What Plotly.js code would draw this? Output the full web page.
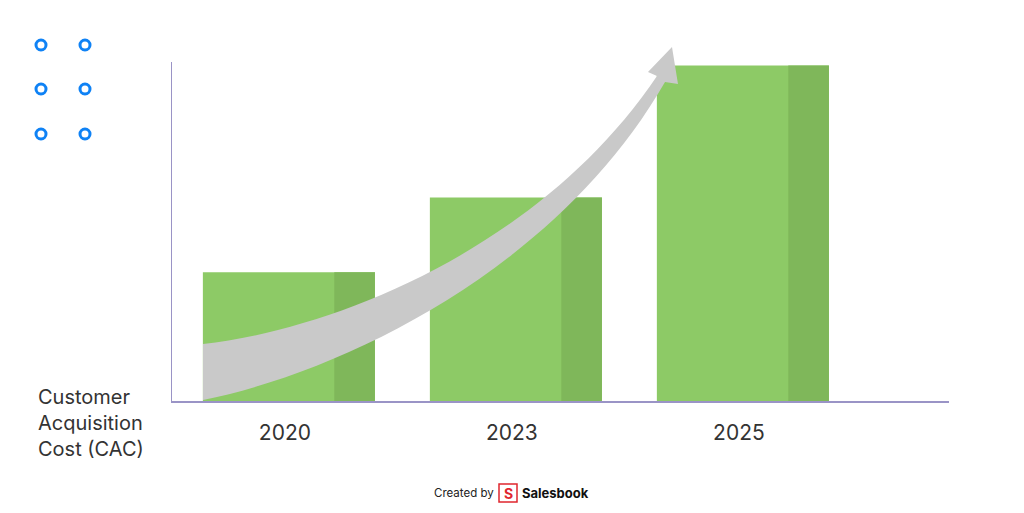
<!DOCTYPE html>
<html>
<head>
<meta charset="utf-8">
<script src="https://cdn.plot.ly/plotly-3.0.1.min.js"></script>
<style>
  html, body { margin: 0; padding: 0; background: #fff; }
  #chart { width: 1024px; height: 513px; }
</style>
</head>
<body>
<div id="chart"></div>
<script>
// chart data
const years = ['2020', '2023', '2025'];
const cacValues = [38, 60, 99];
const yTitle = 'Customer<br>Acquisition<br>Cost (CAC)';

const lightGreen = '#8dca66';
const darkGreen = '#7fb75a';
const axisColor = '#9a94c6';

// plot area in pixels (used for the decorations only)
const L = 172, R = 949, T = 62, B = 401;
function px(x, y) {
  return ((x - L) / (R - L)).toFixed(4) + ',' + ((B - y) / (B - T)).toFixed(4);
}
function pxX(x) { return (x - L) / (R - L); }
function pxY(y) { return (B - y) / (B - T); }

// the curved growth arrow over the bars
const arrowPath = 'M' + px(203, 344) +
  ' C' + px(330, 330) + ' ' + px(540, 250) + ' ' + px(657, 76) +
  ' L' + px(648, 72) + ' L' + px(672, 47) + ' L' + px(678, 84) + ' L' + px(665, 82) +
  ' C' + px(560, 265) + ' ' + px(350, 370) + ' ' + px(203, 400) + ' Z';

let shapes = [{
  type: 'path', xref: 'paper', yref: 'paper', path: arrowPath,
  fillcolor: '#c9c9c9', line: { width: 0 }, layer: 'above'
}];

// blue ring decoration top left
const dotX = [41, 85];
const dotY = [45, 89, 134];
dotY.forEach(function (cy) {
  dotX.forEach(function (cx) {
    shapes.push({
      type: 'circle', xref: 'paper', yref: 'paper',
      x0: pxX(cx - 5), x1: pxX(cx + 5), y0: pxY(cy + 5), y1: pxY(cy - 5),
      line: { color: '#0f82f5', width: 3 }, fillcolor: 'rgba(0,0,0,0)'
    });
  });
});

// salesbook logo box
shapes.push({
  type: 'rect', xref: 'paper', yref: 'paper',
  x0: pxX(499), x1: pxX(517), y0: pxY(502), y1: pxY(484),
  line: { color: '#e0262e', width: 1.5 }, fillcolor: '#fff'
});

const traces = [
  {
    type: 'bar', x: years, y: cacValues,
    width: 0.758, offset: -0.379,
    marker: { color: lightGreen, line: { width: 0 } },
    hoverinfo: 'skip'
  },
  {
    type: 'bar', x: years, y: cacValues,
    width: 0.179, offset: 0.2,
    marker: { color: darkGreen, line: { width: 0 } },
    hoverinfo: 'skip'
  }
];

const layout = {
  width: 1024,
  height: 513,
  margin: { l: L, r: 1024 - R, t: T, b: 513 - B },
  paper_bgcolor: '#fff',
  plot_bgcolor: '#fff',
  showlegend: false,
  barmode: 'overlay',
  font: { family: 'Inter, "Open Sans", sans-serif', color: '#333' },
  xaxis: {
    type: 'category',
    range: [-0.515, 2.908],
    showline: true, linecolor: axisColor, linewidth: 1.5,
    showgrid: false, zeroline: false, ticks: '',
    ticklabelstandoff: 12,
    ticklabelshift: -4,
    tickfont: { size: 21, color: '#333', family: 'Inter, "Open Sans", sans-serif' }
  },
  yaxis: {
    range: [0, 100],
    showline: true, linecolor: axisColor, linewidth: 1.5,
    showgrid: false, zeroline: false, ticks: '', showticklabels: false
  },
  shapes: shapes,
  annotations: [
    {
      xref: 'paper', yref: 'paper', x: pxX(36), y: pxY(383),
      xanchor: 'left', yanchor: 'top', align: 'left',
      text: yTitle, showarrow: false,
      font: { size: 20, color: '#333', family: 'Inter, "Open Sans", sans-serif' }
    },
    {
      xref: 'paper', yref: 'paper', x: pxX(496), y: pxY(493),
      xanchor: 'right', yanchor: 'middle', text: 'Created by', showarrow: false,
      font: { size: 11.5, color: '#222', family: 'Inter, sans-serif' }
    },
    {
      xref: 'paper', yref: 'paper', x: pxX(508), y: pxY(493),
      xanchor: 'center', yanchor: 'middle', text: '<b>S</b>', showarrow: false,
      font: { size: 14, color: '#e0262e', family: 'Inter, sans-serif' }
    },
    {
      xref: 'paper', yref: 'paper', x: pxX(520), y: pxY(493),
      xanchor: 'left', yanchor: 'middle', text: '<b>Salesbook</b>', showarrow: false,
      font: { size: 13, color: '#111', family: 'Inter, sans-serif' }
    }
  ]
};

Plotly.newPlot('chart', traces, layout, { staticPlot: true, displayModeBar: false });
</script>
</body>
</html>
